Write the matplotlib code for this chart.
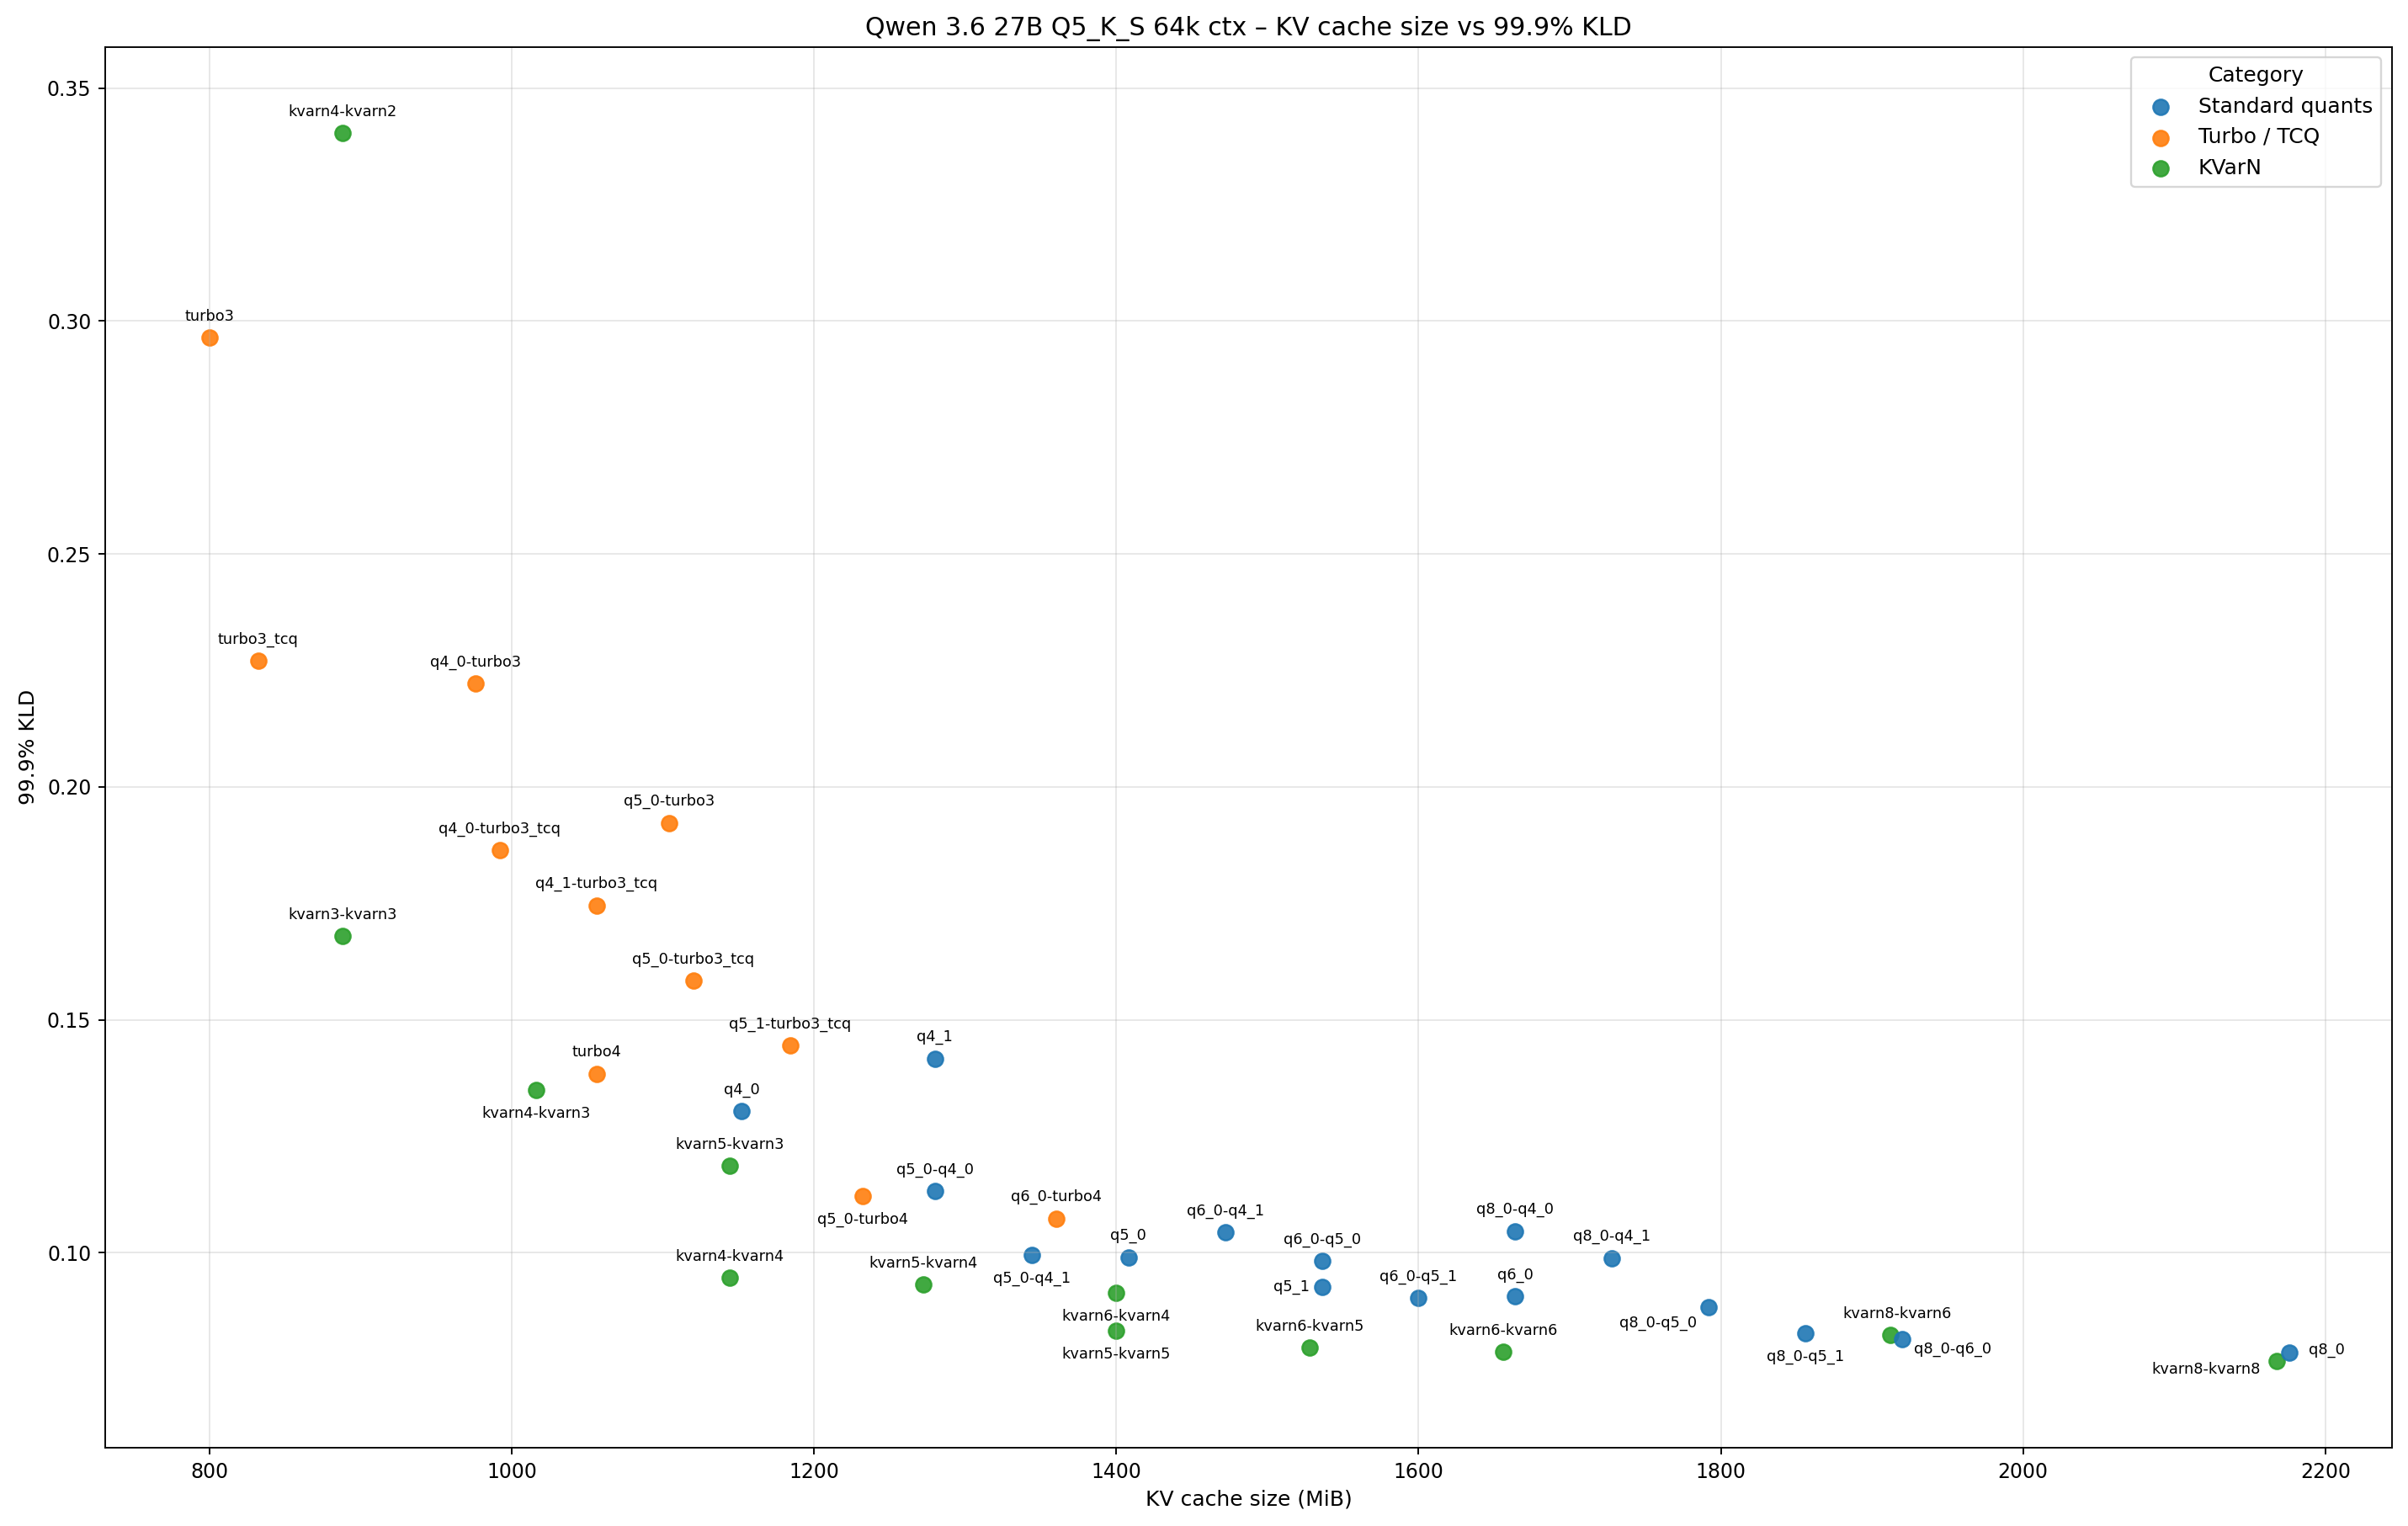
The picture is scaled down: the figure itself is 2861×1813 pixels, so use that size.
import matplotlib
matplotlib.use('Agg')
import matplotlib.pyplot as plt

# KV cache size (MiB) and 99.9% KLD per config, grouped by category
std_names = ['q4_0', 'q4_1', 'q5_0', 'q5_1', 'q6_0', 'q8_0',
             'q5_0-q4_0', 'q5_0-q4_1', 'q6_0-q4_1', 'q6_0-q5_0', 'q6_0-q5_1',
             'q8_0-q4_0', 'q8_0-q4_1', 'q8_0-q5_0', 'q8_0-q5_1', 'q8_0-q6_0']
std_size = [1152, 1280, 1408, 1536, 1664, 2176,
            1280, 1344, 1472, 1536, 1600,
            1664, 1728, 1792, 1856, 1920]
std_kld = [0.1304, 0.1417, 0.0990, 0.0926, 0.0906, 0.0786,
           0.1132, 0.0995, 0.1044, 0.0982, 0.0903,
           0.1046, 0.0989, 0.0883, 0.0827, 0.0814]

turbo_names = ['turbo3', 'turbo3_tcq', 'turbo4', 'q4_0-turbo3', 'q4_0-turbo3_tcq',
               'q4_1-turbo3_tcq', 'q5_0-turbo3', 'q5_0-turbo3_tcq', 'q5_1-turbo3_tcq',
               'q5_0-turbo4', 'q6_0-turbo4']
turbo_size = [800, 832, 1056, 976, 992, 1056, 1104, 1120, 1184, 1232, 1360]
turbo_kld = [0.2964, 0.2270, 0.1384, 0.2222, 0.1864, 0.1746, 0.1923, 0.1584,
             0.1445, 0.1122, 0.1073]

kvarn_names = ['kvarn4-kvarn2', 'kvarn3-kvarn3', 'kvarn4-kvarn3', 'kvarn5-kvarn3',
               'kvarn4-kvarn4', 'kvarn5-kvarn4', 'kvarn6-kvarn4', 'kvarn5-kvarn5',
               'kvarn6-kvarn5', 'kvarn6-kvarn6', 'kvarn8-kvarn6', 'kvarn8-kvarn8']
kvarn_size = [888, 888, 1016, 1144, 1144, 1272, 1400, 1400, 1528, 1656, 1912, 2168]
kvarn_kld = [0.3403, 0.1680, 0.1349, 0.1186, 0.0946, 0.0932, 0.0914, 0.0832,
             0.0796, 0.0787, 0.0823, 0.0768]

categories = ['Standard quants', 'Turbo / TCQ', 'KVarN']

# label placement: (dx, dy) in points, ha, va ; default is centred above
below = ((0, -8), 'center', 'top')
label_pos = {
    'kvarn4-kvarn3': below,
    'q5_0-turbo4': below,
    'q5_0-q4_1': below,
    'kvarn6-kvarn4': below,
    'kvarn5-kvarn5': below,
    'q8_0-q5_1': below,
    'q5_1': ((-6, 0), 'right', 'center'),
    'q8_0-q5_0': ((-6, -4), 'right', 'top'),
    'q8_0-q6_0': ((6, -5), 'left', 'center'),
    'q8_0': ((10, 1), 'left', 'center'),
    'kvarn8-kvarn8': ((-8.5, -4.5), 'right', 'center'),
    'kvarn8-kvarn6': ((3.5, 7), 'center', 'bottom'),
}
above = ((0, 7), 'center', 'bottom')

fig = plt.figure(figsize=(2861 / 170, 1813 / 170), dpi=170)
ax = fig.add_axes([0.04369, 0.05130, 0.99329 - 0.04369, 0.96928 - 0.05130])

groups = [
    (std_names, std_size, std_kld, 'tab:blue', categories[0]),
    (turbo_names, turbo_size, turbo_kld, 'tab:orange', categories[1]),
    (kvarn_names, kvarn_size, kvarn_kld, 'tab:green', categories[2]),
]

handles = {}
# draw KVarN first so standard quants sit on top where they overlap
for names, sizes, klds, color, cat in reversed(groups):
    handles[cat] = ax.scatter(sizes, klds, s=60, color=color, alpha=0.9, label=cat)

for names, sizes, klds, color, cat in groups:
    for n, x, y in zip(names, sizes, klds):
        off, ha, va = label_pos.get(n, above)
        ax.annotate(n, (x, y), xytext=off, textcoords='offset points',
                    ha=ha, va=va, fontsize=7.5)

ax.set_xlim(730.9, 2244.0)
ax.set_ylim(0.05816, 0.35885)
ax.grid(True, alpha=0.3)
ax.set_xlabel('KV cache size (MiB)', fontsize=10.6)
ax.set_ylabel('99.9% KLD', fontsize=10.6)
ax.set_title('Qwen 3.6 27B Q5_K_S 64k ctx – KV cache size vs 99.9% KLD', fontsize=12.7)
ax.legend([handles[c] for c in categories], categories, title='Category',
          loc='upper right', fontsize=10.6, title_fontsize=10.6)

fig.savefig('out.png', dpi=170)
